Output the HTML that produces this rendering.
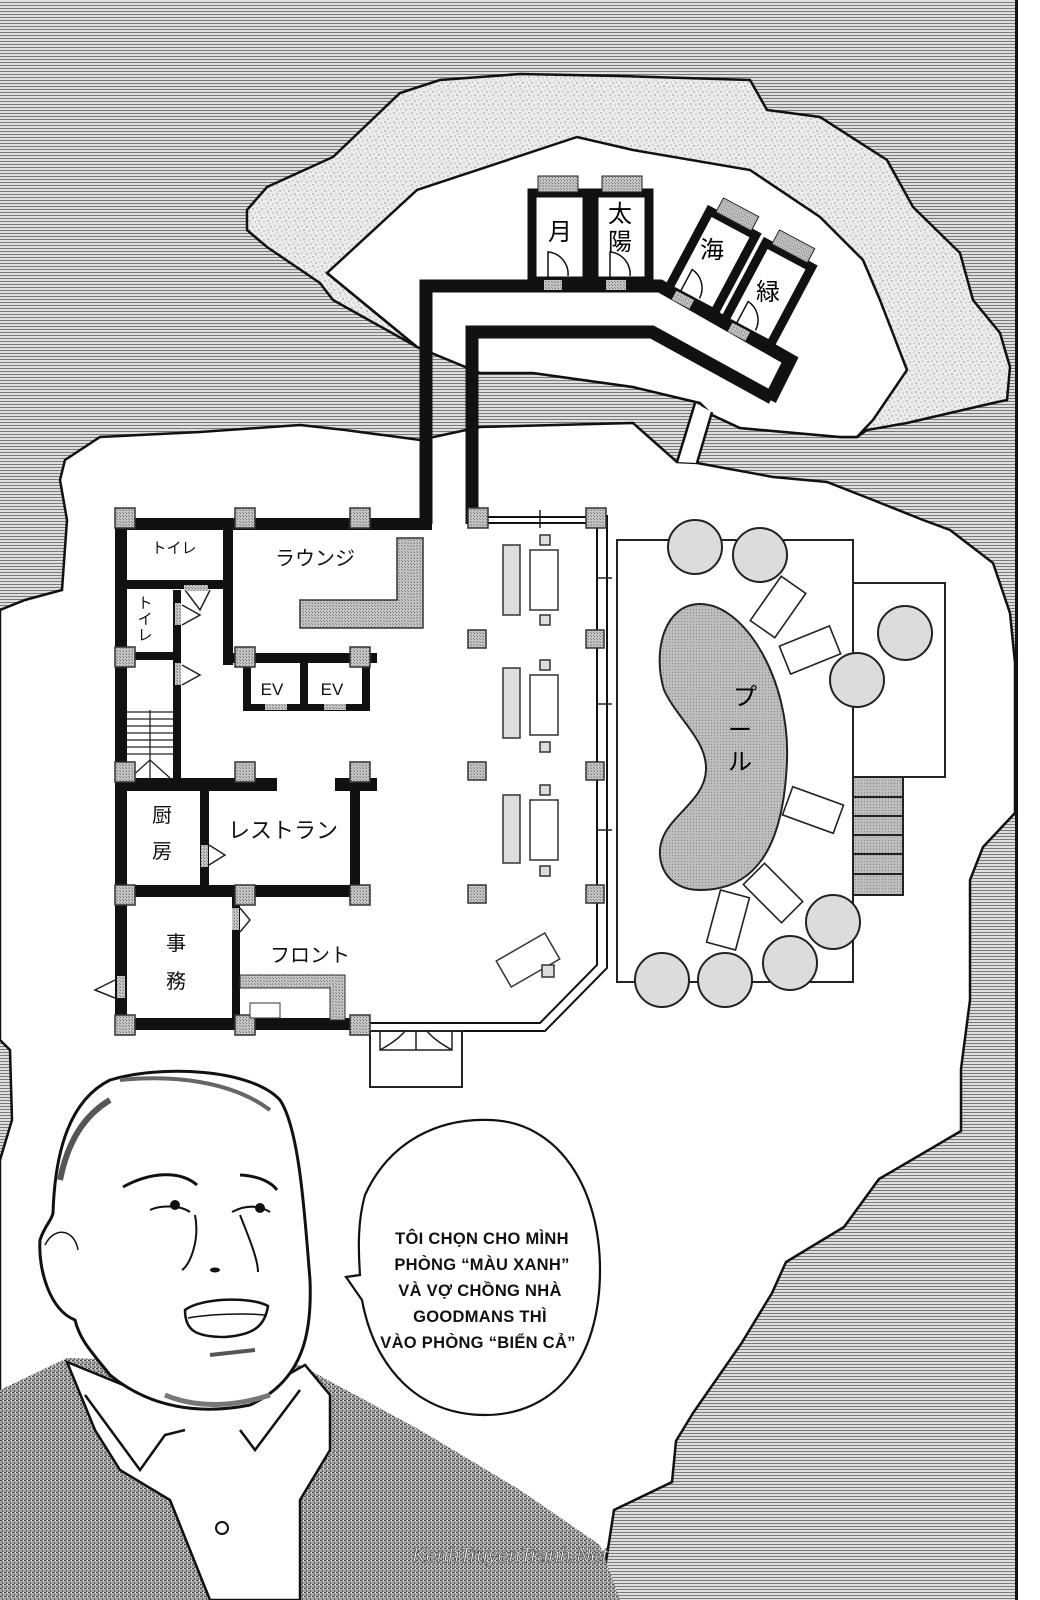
<!DOCTYPE html>
<html><head><meta charset="utf-8"><style>
html,body{margin:0;padding:0;background:#fff;}
svg{display:block}
text{font-family:"Liberation Sans","Noto Sans CJK JP",sans-serif;}
</style></head><body>
<svg width="1040" height="1600" viewBox="0 0 1040 1600" xmlns="http://www.w3.org/2000/svg">
<defs>
<pattern id="sea" width="6" height="3" patternUnits="userSpaceOnUse">
<rect width="6" height="3" fill="#dedede"/><rect y="2" width="6" height="1" fill="#7a7a7a"/>
</pattern>
<pattern id="sp" width="9" height="9" patternUnits="userSpaceOnUse">
<rect width="9" height="9" fill="#ececec"/>
<circle cx="1" cy="2" r="0.7" fill="#888"/><circle cx="5" cy="1" r="0.6" fill="#999"/>
<circle cx="7" cy="5" r="0.7" fill="#888"/><circle cx="3" cy="6" r="0.6" fill="#999"/>
<circle cx="8" cy="8" r="0.5" fill="#888"/>
</pattern>
<pattern id="gr" width="3" height="3" patternUnits="userSpaceOnUse">
<rect width="3" height="3" fill="#c4c4c4"/><rect width="1" height="1" fill="#7a7a7a"/><rect x="2" y="2" width="1" height="1" fill="#8a8a8a"/>
</pattern>
<pattern id="jk" width="4" height="4" patternUnits="userSpaceOnUse">
<rect width="4" height="4" fill="#a8a8a8"/><rect width="2" height="1" fill="#444"/><rect x="2" y="2" width="1" height="2" fill="#555"/><rect x="3" y="0" width="1" height="1" fill="#eee"/>
</pattern>
<pattern id="pl" width="3" height="3" patternUnits="userSpaceOnUse">
<rect width="3" height="3" fill="#bdbdbd"/><rect width="1" height="1" fill="#888"/>
</pattern>
</defs>

<!-- sea -->
<rect x="0" y="0" width="1017" height="1600" fill="url(#sea)"/>
<rect x="1017" y="0" width="23" height="1600" fill="#fff"/>
<rect x="1015" y="0" width="3" height="1600" fill="#111"/>

<!-- top island speckle -->
<path d="M247,210 L267,187 L333,157 L400,93 L440,80 L520,74 L620,76 L750,80 L767,110 L820,117 L887,160 L913,207 L960,253 L973,300 L1000,333 L1010,367 L1007,400 L993,403 L907,423 L867,430 L857,437 L840,437 L740,428 L712,415 L700,403 L633,387 L533,373 L480,373 L480,360 L417,347 L333,300 L320,283 L267,247 L247,230 Z" fill="url(#sp)" stroke="#111" stroke-width="2.5"/>
<!-- top island white interior -->
<path d="M327,273 L417,190 L577,137 L633,150 L750,170 L820,217 L863,260 L880,300 L907,370 L873,420 L857,437 L840,437 L740,428 L712,415 L700,403 L633,387 L533,373 L480,373 L417,347 Z" fill="#fff" stroke="#111" stroke-width="2.5"/>
<path d="M327,273 L417,347" stroke="#111" stroke-width="2.5"/>

<!-- main island -->
<path d="M65,460 L100,437 L200,432 L300,425 L345,430 L420,440 L480,427 L633,423 L677,462 L697,463 L773,477 L827,482 L873,500 L923,520 L950,530 L993,563 L1010,613 L1015,663 L1015,813 L983,847 L970,880 L970,1000 L961,1069 L961,1131 L879,1179 L844,1227 L786,1262 L772,1293 L741,1344 L693,1413 L676,1441 L672,1482 L614,1510 L600,1600 L0,1600 L0,1160 L12,1120 L10,1050 L0,1040 L0,610 L25,600 L62,590 L67,520 L60,480 Z" fill="#fff" stroke="#111" stroke-width="2.5"/>
<!-- bridge -->
<path d="M695,403 L677,462 L697,463 L712,412 Z" fill="#fff"/>
<path d="M695,403 L677,462 M712,412 L697,463" stroke="#111" stroke-width="2.5"/>

<!-- corridor -->
<g fill="none" stroke="#111" stroke-width="13" stroke-linejoin="miter">
<path d="M426,524 L426,286 L660,286 L790,360 L770,400"/>
<path d="M472,524 L472,332 L652,332 L772,398"/>
</g>
<rect x="420" y="340" width="8" height="100" fill="#fff" opacity="0"/>

<!-- top rooms -->
<g>
<rect x="532" y="193" width="55" height="88" fill="#fff" stroke="#111" stroke-width="9"/>
<rect x="538" y="176" width="40" height="16" fill="url(#gr)" stroke="#222"/>
<rect x="544" y="280" width="18" height="10" fill="url(#gr)"/>
<path d="M548,278 L548,252 A22,22 0 0 1 568,276" fill="none" stroke="#111" stroke-width="1.5"/>
<text x="560" y="240" font-size="24" text-anchor="middle">月</text>
<rect x="594" y="193" width="55" height="88" fill="#fff" stroke="#111" stroke-width="9"/>
<rect x="602" y="176" width="40" height="16" fill="url(#gr)" stroke="#222"/>
<rect x="606" y="280" width="20" height="10" fill="url(#gr)"/>
<path d="M610,278 L610,252 A22,22 0 0 1 630,276" fill="none" stroke="#111" stroke-width="1.5"/>
<text x="620" y="222" font-size="24" text-anchor="middle">太</text>
<text x="620" y="250" font-size="24" text-anchor="middle">陽</text>
</g>
<g transform="translate(712,262) rotate(28)">
<rect x="-26" y="-44" width="52" height="88" fill="#fff" stroke="#111" stroke-width="9"/>
<rect x="-20" y="-62" width="40" height="16" fill="url(#gr)" stroke="#222"/>
<path d="M-14,40 L-14,16 A22,22 0 0 1 6,38" fill="none" stroke="#111" stroke-width="1.5"/>
<rect x="-18" y="42" width="20" height="10" fill="url(#gr)"/>
<text x="0" y="-4" font-size="24" text-anchor="middle" transform="rotate(-28)">海</text>
</g>
<g transform="translate(768,294) rotate(28)">
<rect x="-26" y="-44" width="52" height="88" fill="#fff" stroke="#111" stroke-width="9"/>
<rect x="-20" y="-62" width="40" height="16" fill="url(#gr)" stroke="#222"/>
<path d="M-14,40 L-14,16 A22,22 0 0 1 6,38" fill="none" stroke="#111" stroke-width="1.5"/>
<rect x="-18" y="42" width="20" height="10" fill="url(#gr)"/>
<text x="0" y="6" font-size="24" text-anchor="middle" transform="rotate(-28)">緑</text>
</g>

<!-- pool deck -->
<rect x="617" y="540" width="236" height="442" fill="#fff" stroke="#222" stroke-width="2"/>
<rect x="853" y="583" width="92" height="194" fill="#fff" stroke="#222" stroke-width="2"/>
<rect x="853" y="777" width="50" height="118" fill="url(#pl)" stroke="#222" stroke-width="2"/>
<g stroke="#222" stroke-width="2"><line x1="853" y1="797" x2="903" y2="797"/><line x1="853" y1="816" x2="903" y2="816"/><line x1="853" y1="835" x2="903" y2="835"/><line x1="853" y1="854" x2="903" y2="854"/><line x1="853" y1="874" x2="903" y2="874"/></g>
<path d="M700,604 C745,604 790,680 787,760 C784,840 760,890 700,890 C665,890 655,860 662,840 C670,815 705,800 706,770 C707,740 678,720 664,690 C652,650 665,604 700,604 Z" fill="url(#pl)" stroke="#222" stroke-width="2"/>
<text x="745" y="705" font-size="24" text-anchor="middle">プ</text>
<text x="740" y="738" font-size="24" text-anchor="middle">ー</text>
<text x="740" y="770" font-size="24" text-anchor="middle">ル</text>
<g fill="#fff" stroke="#222" stroke-width="1.6">
<rect x="-27" y="-15" width="54" height="30" transform="translate(778,607) rotate(-55)"/>
<rect x="-27" y="-15" width="54" height="30" transform="translate(810,650) rotate(-22)"/>
<rect x="-27" y="-15" width="54" height="30" transform="translate(813,810) rotate(20)"/>
<rect x="-27" y="-15" width="54" height="30" transform="translate(773,893) rotate(45)"/>
<rect x="-27" y="-15" width="54" height="30" transform="translate(728,920) rotate(-75)"/>
</g>
<g stroke="#222" stroke-width="2" fill="#dcdcdc">
<circle cx="695" cy="547" r="27"/><circle cx="760" cy="555" r="27"/>
<circle cx="905" cy="633" r="27"/><circle cx="857" cy="680" r="27"/>
<circle cx="833" cy="922" r="27"/><circle cx="790" cy="963" r="27"/>
<circle cx="725" cy="980" r="27"/><circle cx="662" cy="980" r="27"/>
</g>

<!-- main building -->
<g fill="none" stroke="#111">
<path d="M597,515 L597,965 L540,1023 L370,1023" stroke-width="2"/>
<path d="M607,515 L607,968 L545,1031 L370,1031" stroke-width="2"/>
<line x1="478" y1="517" x2="597" y2="517" stroke-width="2"/>
<line x1="478" y1="523" x2="597" y2="523" stroke-width="2"/>
</g>
<rect x="370" y="1031" width="92" height="56" fill="#fff" stroke="#222" stroke-width="2"/>
<path d="M380,1031 L380,1050 L416,1050 L416,1031 M416,1050 L452,1050 L452,1031 M380,1050 Q398,1040 405,1031 M452,1050 Q434,1040 427,1031" fill="none" stroke="#222" stroke-width="1.5"/>
<g fill="#111">
<rect x="115" y="518" width="12" height="510"/>
<rect x="115" y="518" width="317" height="12"/>
<rect x="115" y="1018" width="255" height="12"/>
<rect x="223" y="530" width="10" height="135"/>
<rect x="127" y="580" width="100" height="9"/>
<rect x="233" y="653" width="144" height="10"/>
<rect x="243" y="663" width="8" height="47"/>
<rect x="300" y="663" width="8" height="47"/>
<rect x="362" y="663" width="8" height="47"/>
<rect x="243" y="704" width="127" height="7"/>
<rect x="173" y="590" width="8" height="190"/>
<rect x="127" y="652" width="46" height="8"/>
<rect x="115" y="778" width="162" height="13"/>
<rect x="335" y="778" width="42" height="13"/>
<rect x="350" y="778" width="10" height="112"/>
<rect x="200" y="790" width="9" height="100"/>
<rect x="115" y="885" width="245" height="12"/>
<rect x="232" y="897" width="8" height="123"/>
</g>
<!-- stairs -->
<g stroke="#222" stroke-width="1.3">
<line x1="150" y1="710" x2="150" y2="778"/>
<line x1="127" y1="712" x2="173" y2="712"/><line x1="127" y1="719" x2="173" y2="719"/><line x1="127" y1="726" x2="173" y2="726"/><line x1="127" y1="733" x2="173" y2="733"/><line x1="127" y1="740" x2="173" y2="740"/><line x1="127" y1="747" x2="173" y2="747"/><line x1="127" y1="754" x2="173" y2="754"/>
<line x1="150" y1="760" x2="130" y2="778"/><line x1="150" y1="760" x2="170" y2="778"/>
</g>
<!-- lounge counter -->
<path d="M397,538 L423,538 L423,628 L300,628 L300,600 L397,600 Z" fill="url(#gr)" stroke="#333" stroke-width="1.5"/>
<!-- doors -->
<g fill="none" stroke="#222" stroke-width="1.5">
<path d="M185,590 L200,610 L210,590"/>
<path d="M182,605 L200,615 L182,625"/>
<path d="M182,665 L200,675 L182,685"/>
<path d="M209,845 L225,855 L209,865"/>
<path d="M240,908 L250,920 L240,932"/>
<path d="M115,980 L95,990 L115,998"/>
</g>
<g fill="url(#gr)">
<rect x="184" y="585" width="24" height="6"/><rect x="175" y="603" width="6" height="22"/><rect x="175" y="663" width="6" height="22"/>
<rect x="201" y="845" width="7" height="22"/><rect x="232" y="908" width="7" height="22"/><rect x="117" y="976" width="8" height="22"/>
<rect x="265" y="704" width="22" height="6"/><rect x="324" y="704" width="22" height="6"/>
</g>
<!-- pillars -->
<g fill="url(#gr)" stroke="#333" stroke-width="1.5">
<rect x="115" y="508" width="20" height="20"/><rect x="235" y="508" width="20" height="20"/><rect x="350" y="508" width="20" height="20"/>
<rect x="468" y="508" width="20" height="20"/><rect x="586" y="508" width="20" height="20"/>
<rect x="115" y="647" width="20" height="20"/><rect x="235" y="647" width="20" height="20"/><rect x="350" y="647" width="20" height="20"/>
<rect x="468" y="630" width="18" height="18"/><rect x="586" y="630" width="18" height="18"/>
<rect x="115" y="762" width="20" height="20"/><rect x="235" y="762" width="20" height="20"/><rect x="350" y="762" width="20" height="20"/>
<rect x="468" y="762" width="18" height="18"/><rect x="586" y="762" width="18" height="18"/>
<rect x="115" y="885" width="20" height="20"/><rect x="235" y="885" width="20" height="20"/><rect x="350" y="885" width="20" height="20"/>
<rect x="468" y="885" width="18" height="18"/><rect x="586" y="885" width="18" height="18"/>
<rect x="115" y="1015" width="20" height="20"/><rect x="235" y="1015" width="20" height="20"/><rect x="350" y="1015" width="20" height="20"/>
</g>
<!-- lobby furniture -->
<g stroke="#333" stroke-width="1.5">
<rect x="503" y="545" width="17" height="70" fill="#ddd"/><rect x="530" y="550" width="28" height="60" fill="#fff"/>
<rect x="540" y="535" width="10" height="10" fill="#ddd"/><rect x="540" y="615" width="10" height="10" fill="#ddd"/>
<rect x="503" y="668" width="17" height="70" fill="#ddd"/><rect x="530" y="675" width="28" height="60" fill="#fff"/>
<rect x="540" y="660" width="10" height="10" fill="#ddd"/><rect x="540" y="742" width="10" height="10" fill="#ddd"/>
<rect x="503" y="795" width="17" height="68" fill="#ddd"/><rect x="530" y="800" width="28" height="60" fill="#fff"/>
<rect x="540" y="785" width="10" height="10" fill="#ddd"/><rect x="540" y="866" width="10" height="10" fill="#ddd"/>
<rect x="-28" y="-15" width="56" height="30" fill="#fff" transform="translate(528,960) rotate(-30)"/>
<rect x="542" y="965" width="12" height="12" fill="#ddd"/>
</g>
<g stroke="#222" stroke-width="1.5"><line x1="597" y1="578" x2="612" y2="578"/><line x1="597" y1="704" x2="612" y2="704"/><line x1="597" y1="830" x2="612" y2="830"/><line x1="540" y1="510" x2="540" y2="528"/></g>
<!-- front counter -->
<path d="M240,975 L345,975 L345,1020 L330,1020 L330,988 L240,988 Z" fill="url(#gr)" stroke="#333"/>
<rect x="250" y="1003" width="30" height="15" fill="#fff" stroke="#333"/>

<!-- labels -->
<g font-size="15" text-anchor="middle" fill="#111">
<text x="174" y="553">トイレ</text>
<text x="145" y="608">ト</text><text x="145" y="624">イ</text><text x="145" y="640">レ</text>
<text x="272" y="695" font-size="17">EV</text><text x="332" y="695" font-size="17">EV</text>
</g>
<g font-size="20" text-anchor="middle" fill="#111">
<text x="315" y="565">ラウンジ</text>
<text x="283" y="838" font-size="22">レストラン</text>
<text x="162" y="822">厨</text><text x="162" y="858">房</text>
<text x="176" y="950">事</text><text x="176" y="988">務</text>
<text x="310" y="962">フロント</text>
</g>

<!-- man -->
<path d="M0,1390 L67,1358 L300,1365 L420,1430 L520,1490 L600,1545 L620,1600 L0,1600 Z" fill="url(#jk)"/>
<path d="M67,1362 L95,1430 L120,1470 L170,1500 L210,1600 L300,1600 L300,1500 L330,1450 L330,1395 L305,1365 L233,1405 L160,1400 Z" fill="#fff" stroke="#111" stroke-width="2.5"/>
<path d="M85,1395 L140,1470 L165,1435 L185,1430 M300,1390 L255,1450 L240,1430" fill="none" stroke="#111" stroke-width="2.5"/>
<circle cx="222" cy="1528" r="6" fill="#fff" stroke="#111" stroke-width="2"/>
<path d="M53,1213 C55,1150 70,1100 110,1080 C160,1065 250,1068 280,1100 C300,1130 305,1220 310,1280 C312,1330 305,1380 250,1405 C200,1415 150,1408 110,1375 C90,1350 80,1340 75,1320 C50,1310 38,1270 40,1240 C45,1225 52,1220 53,1213 Z" fill="#fff" stroke="#111" stroke-width="3"/>
<path d="M60,1180 C68,1140 85,1115 110,1100" fill="none" stroke="#555" stroke-width="6"/>
<path d="M120,1080 C170,1075 230,1080 270,1110" fill="none" stroke="#666" stroke-width="4"/>
<path d="M123,1187 C150,1172 180,1170 197,1185 M240,1175 C260,1176 272,1183 277,1190" fill="none" stroke="#111" stroke-width="3"/>
<path d="M150,1210 C160,1205 180,1205 190,1212 M232,1212 C245,1205 258,1205 270,1212" fill="none" stroke="#111" stroke-width="2"/>
<circle cx="175" cy="1205" r="5" fill="#111"/><circle cx="260" cy="1208" r="5" fill="#111"/>
<path d="M195,1215 C200,1240 190,1265 182,1270 M240,1215 C250,1240 258,1260 258,1272" fill="none" stroke="#111" stroke-width="2"/>
<ellipse cx="215" cy="1270" rx="5" ry="2.5" fill="#111"/>
<path d="M185,1310 C200,1298 250,1296 268,1306 C265,1325 255,1335 225,1337 C195,1337 185,1330 185,1310 Z" fill="#fff" stroke="#111" stroke-width="2.5"/>
<path d="M188,1318 C210,1314 245,1313 265,1315" fill="none" stroke="#111" stroke-width="1.5"/>
<path d="M210,1355 L255,1350" stroke="#555" stroke-width="4"/>
<path d="M165,1395 C200,1410 240,1405 270,1395" fill="none" stroke="#777" stroke-width="5"/>
<path d="M45,1245 C55,1225 75,1230 78,1250" fill="none" stroke="#111" stroke-width="1.5"/>

<!-- speech bubble -->
<path d="M365,1195 C390,1140 440,1118 490,1120 C560,1122 600,1190 600,1270 C600,1360 555,1415 485,1415 C420,1415 375,1370 362,1300 L346,1277 L360,1275 C358,1245 358,1220 365,1195 Z" fill="#fff" stroke="#111" stroke-width="2.2"/>
<g font-size="16.5" font-weight="bold" text-anchor="middle" fill="#111" letter-spacing="0.3">
<text x="482" y="1244">TÔI CHỌN CHO MÌNH</text>
<text x="482" y="1270">PHÒNG “MÀU XANH”</text>
<text x="480" y="1296">VÀ VỢ CHỒNG NHÀ</text>
<text x="480" y="1322">GOODMANS THÌ</text>
<text x="478" y="1348">VÀO PHÒNG “BIỂN CẢ”</text>
</g>
<text x="510" y="1562" font-size="20" font-style="italic" text-anchor="middle" fill="#fff" stroke="#555" stroke-width="0.8" font-family="Liberation Serif, serif">KenhTruyenTranh.Net</text>
</svg>
</body></html>
